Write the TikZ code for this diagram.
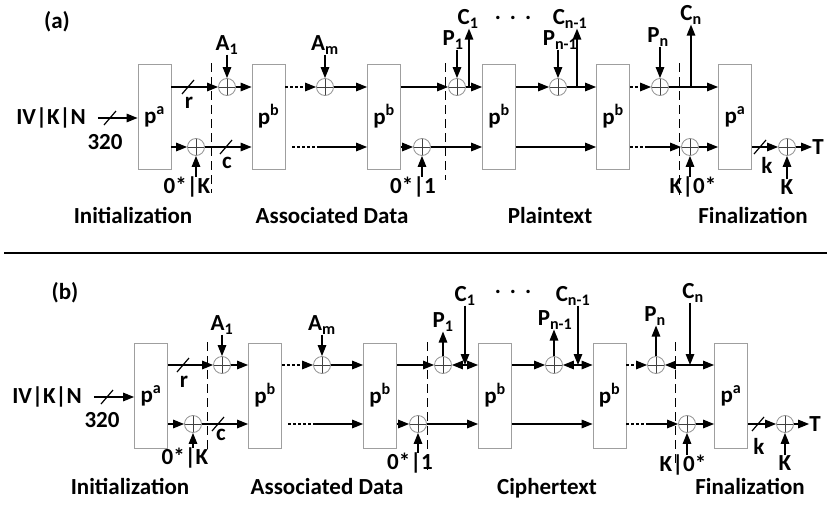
\documentclass[tikz,border=0pt]{standalone}
\usepackage{fontspec}
\setmainfont{Carlito}
\usetikzlibrary{arrows.meta}
\begin{document}
\begin{tikzpicture}[x=1pt,y=-1pt,
  every node/.style={font=\fontsize{23}{26}\selectfont\bfseries, inner sep=0pt},
  phaselbl/.style={anchor=base},
  perm/.style={draw=gray!75, line width=0.8pt, minimum width=33pt, minimum height=105pt},
  xo/.style={circle, draw=gray!85, line width=0.8pt, minimum size=17pt,
    path picture={\draw[black!75,line width=0.8pt] (path picture bounding box.north) -- (path picture bounding box.south) (path picture bounding box.west) -- (path picture bounding box.east);}},
  ln/.style={line width=1.4pt},
  arr/.style={ln, -{Triangle[length=11pt,width=8.5pt]}},
  dotl/.style={ln, dash pattern=on 3pt off 2pt},
  dotarr/.style={dotl, -{Triangle[length=11pt,width=8.5pt]}},
  sepl/.style={line width=1pt, dash pattern=on 9pt off 5pt},
  slash/.style={line width=1.2pt}
]
\useasboundingbox (0,0) rectangle (827,506);

% ================= panel (a) =================
\node (la) at (57,22) {(a)};
\node[perm] (a0) at (154.5,116.5) {p\textsuperscript{a}};
\node[perm] (a1) at (268.5,116.5) {p\textsuperscript{b}};
\node[perm] (a2) at (384,116.5) {p\textsuperscript{b}};
\node[perm] (a3) at (499,116.5) {p\textsuperscript{b}};
\node[perm] (a4) at (613,116.5) {p\textsuperscript{b}};
\node[perm] (a5) at (735,116.5) {p\textsuperscript{a}};

\node[xo] (xaA1) at (227,87) {};
\node[xo] (xaK1) at (196,147) {};
\node[xo] (xaAm) at (325,87) {};
\node[xo] (xa01) at (422,147) {};
\node[xo] (xaP1) at (457,87) {};
\node[xo] (xaPn1) at (558,87) {};
\node[xo] (xaPn) at (660,87) {};
\node[xo] (xaK2) at (690,147) {};
\node[xo] (xaT) at (787,147) {};

\node (aiv) at (51,118) {IV|K|N};
\node (a320) at (105,142) {320};
\node (ar) at (189,103) {r};
\node (ac) at (227,163) {c};
\node (a0K) at (187,187) {0*|K};
\node (aA1l) at (227,45) {A\textsubscript{1}};
\node (aAml) at (325,45) {A\textsubscript{m}};
\node (a01l) at (413,187) {0*|1};
\node (aP1l) at (453,40) {P\textsubscript{1}};
\node (aC1l) at (468,19) {C\textsubscript{1}};
\node (adots) at (513,18) {.\hspace{9pt}.\hspace{9pt}.};
\node (aPn1l) at (560,40) {P\textsubscript{n-1}};
\node (aCn1l) at (570,19) {C\textsubscript{n-1}};
\node (aPnl) at (658,37) {P\textsubscript{n}};
\node (aCnl) at (691,15) {C\textsubscript{n}};
\node (aK0) at (693,187) {K|0*};
\node (ak) at (767,165) {k};
\node (aKl) at (787,187) {K};
\node (aTl) at (818,147) {T};
\node[phaselbl] (aInit) at (133,223) {Initialization};
\node[phaselbl] (aAD) at (332,223) {Associated Data};
\node[phaselbl] (aPT) at (550,223) {Plaintext};
\node[phaselbl] (aFin) at (753,223) {Finalization};

\coordinate (aC1j) at (469,87);
\coordinate (aCn1j) at (577,87);
\coordinate (aCnj) at (691,87);
\coordinate (ad1) at (292,147);
\coordinate (ad2) at (317,147);
\coordinate (ad3) at (648,147);

% input
\draw[arr] ([xshift=12pt]aiv.east) -- (a0.west|-aiv);
\draw[slash] (104,125) -- (116,111);
% top row
\draw[arr] (a0.east|-xaA1) -- (xaA1.west);
\draw[slash] (182,94) -- (194,80);
\draw[arr] (xaA1.east) -- (a1.west|-xaA1);
\draw[dotarr] (a1.east|-xaAm) -- (xaAm.west);
\draw[arr] (xaAm.east) -- (a2.west|-xaAm);
\draw[arr] (a2.east|-xaP1) -- (xaP1.west);
\draw[arr] (xaP1.east) -- (a3.west|-xaP1);
\draw[arr] (a3.east|-xaPn1) -- (xaPn1.west);
\draw[arr] (xaPn1.east) -- (a4.west|-xaPn1);
\draw[dotarr] (a4.east|-xaPn) -- (xaPn.west);
\draw[arr] (xaPn.east) -- (a5.west|-xaPn);
% inputs / outputs top
\draw[arr] (xaA1|-aA1l.south) -- (xaA1.north);
\draw[arr] (xaAm|-aAml.south) -- (xaAm.north);
\draw[arr] (xaP1|-aP1l.south) -- (xaP1.north);
\draw[arr] (xaPn1|-aPn1l.south) -- (xaPn1.north);
\draw[arr] (xaPn|-aPnl.south) -- (xaPn.north);
\draw[arr] (aC1j) -- (aC1j|-aC1l.south);
\draw[arr] (aCn1j) -- (aCn1j|-aCn1l.south);
\draw[arr] (aCnj) -- (aCnj|-aCnl.south);
% bottom row
\draw[arr] (a0.east|-xaK1) -- (xaK1.west);
\draw[arr] (xaK1.east) -- (a1.west|-xaK1);
\draw[slash] (220,154) -- (232,140);
\draw[dotl] (ad1) -- (ad2);
\draw[arr] (ad2) -- (a2.west|-ad2);
\draw[arr] (a2.east|-xa01) -- (xa01.west);
\draw[arr] (xa01.east) -- (a3.west|-xa01);
\draw[arr] (a3.east|-xa01) -- (a4.west|-xa01);
\draw[dotl] (a4.east|-ad3) -- (ad3);
\draw[arr] (ad3) -- (xaK2.west);
\draw[arr] (xaK2.east) -- (a5.west|-xaK2);
\draw[arr] (a5.east|-xaT) -- (xaT.west);
\draw[slash] (754,154) -- (766,140);
\draw[arr] (xaT.east) -- (aTl.west);
\draw[arr] (xaK1|-a0K.north) -- (xaK1.south);
\draw[arr] (xa01|-a01l.north) -- (xa01.south);
\draw[arr] (xaK2|-aK0.north) -- (xaK2.south);
\draw[arr] (xaT|-aKl.north) -- (xaT.south);
% phase separators
\draw[sepl] (211,63) -- (211,193);
\draw[sepl] (445,63) -- (445,180);
\draw[sepl] (679,63) -- (679,195);

% separator line
\draw[line width=2pt] (4,252.5) -- (827,252.5);

% ================= panel (b) =================
\node (lb) at (65,293) {(b)};
\node[perm] (b0) at (151,395.5) {p\textsuperscript{a}};
\node[perm] (b1) at (265,395.5) {p\textsuperscript{b}};
\node[perm] (b2) at (380,395.5) {p\textsuperscript{b}};
\node[perm] (b3) at (495,395.5) {p\textsuperscript{b}};
\node[perm] (b4) at (609.5,395.5) {p\textsuperscript{b}};
\node[perm] (b5) at (731,395.5) {p\textsuperscript{a}};

\node[xo] (xbA1) at (222,365) {};
\node[xo] (xbK1) at (193,424) {};
\node[xo] (xbAm) at (322,365) {};
\node[xo] (xb01) at (418,424) {};
\node[xo] (xbP1) at (443,365) {};
\node[xo] (xbPn1) at (554,365) {};
\node[xo] (xbPn) at (656,365) {};
\node[xo] (xbK2) at (687,424) {};
\node[xo] (xbT) at (785,424) {};

\node (biv) at (47,397) {IV|K|N};
\node (b320) at (102,420) {320};
\node (br) at (184,382) {r};
\node (bc) at (221,435) {c};
\node (b0K) at (185,458) {0*|K};
\node (bA1l) at (222,325) {A\textsubscript{1}};
\node (bAml) at (322,325) {A\textsubscript{m}};
\node (b01l) at (410,463) {0*|1};
\node (bP1l) at (443,322) {P\textsubscript{1}};
\node (bC1l) at (465,296) {C\textsubscript{1}};
\node (bdots) at (513,292) {.\hspace{9pt}.\hspace{9pt}.};
\node (bPn1l) at (555,320) {P\textsubscript{n-1}};
\node (bCn1l) at (573,296) {C\textsubscript{n-1}};
\node (bPnl) at (655,316) {P\textsubscript{n}};
\node (bCnl) at (693,293) {C\textsubscript{n}};
\node (bK0) at (683,465) {K|0*};
\node (bk) at (759,446) {k};
\node (bKl) at (785,463) {K};
\node (bTl) at (815,424) {T};
\node[phaselbl] (bInit) at (130,494) {Initialization};
\node[phaselbl] (bAD) at (327,494) {Associated Data};
\node[phaselbl] (bCT) at (547,494) {Ciphertext};
\node[phaselbl] (bFin) at (750,494) {Finalization};

\coordinate (bC1j) at (465,365);
\coordinate (bCn1j) at (578,365);
\coordinate (bCnj) at (690,365);
\coordinate (bd1) at (288,424);
\coordinate (bd2) at (313,424);
\coordinate (bd3) at (647,424);

% input
\draw[arr] ([xshift=12pt]biv.east) -- (b0.west|-biv);
\draw[slash] (101,404) -- (113,390);
% top row
\draw[arr] (b0.east|-xbA1) -- (xbA1.west);
\draw[slash] (177,372) -- (189,358);
\draw[arr] (xbA1.east) -- (b1.west|-xbA1);
\draw[dotarr] (b1.east|-xbAm) -- (xbAm.west);
\draw[arr] (xbAm.east) -- (b2.west|-xbAm);
\draw[arr] (b2.east|-xbP1) -- (xbP1.west);
\draw[arr] (bC1j) -- (xbP1.east);
\draw[arr] (bC1j) -- (b3.west|-bC1j);
\draw[arr] (b3.east|-xbPn1) -- (xbPn1.west);
\draw[arr] (bCn1j) -- (xbPn1.east);
\draw[arr] (bCn1j) -- (b4.west|-bCn1j);
\draw[dotarr] (b4.east|-xbPn) -- (xbPn.west);
\draw[arr] (bCnj) -- (xbPn.east);
\draw[arr] (bCnj) -- (b5.west|-bCnj);
% inputs / outputs top
\draw[arr] (xbA1|-bA1l.south) -- (xbA1.north);
\draw[arr] (xbAm|-bAml.south) -- (xbAm.north);
\draw[arr] (xbP1.north) -- (xbP1|-bP1l.south);
\draw[arr] (xbPn1.north) -- (xbPn1|-bPn1l.south);
\draw[arr] (xbPn.north) -- (xbPn|-bPnl.south);
\draw[arr] (bC1j|-bC1l.south) -- (bC1j);
\draw[arr] (bCn1j|-bCn1l.south) -- (bCn1j);
\draw[arr] (bCnj|-bCnl.south) -- (bCnj);
% bottom row
\draw[arr] (b0.east|-xbK1) -- (xbK1.west);
\draw[arr] (xbK1.east) -- (b1.west|-xbK1);
\draw[slash] (212,431) -- (224,417);
\draw[dotl] (bd1) -- (bd2);
\draw[arr] (bd2) -- (b2.west|-bd2);
\draw[arr] (b2.east|-xb01) -- (xb01.west);
\draw[arr] (xb01.east) -- (b3.west|-xb01);
\draw[arr] (b3.east|-xb01) -- (b4.west|-xb01);
\draw[dotl] (b4.east|-bd3) -- (bd3);
\draw[arr] (bd3) -- (xbK2.west);
\draw[arr] (xbK2.east) -- (b5.west|-xbK2);
\draw[arr] (b5.east|-xbT) -- (xbT.west);
\draw[slash] (752,431) -- (764,417);
\draw[arr] (xbT.east) -- (bTl.west);
\draw[arr] (xbK1|-b0K.north) -- (xbK1.south);
\draw[arr] (xb01|-b01l.north) -- (xb01.south);
\draw[arr] (xbK2|-bK0.north) -- (xbK2.south);
\draw[arr] (xbT|-bKl.north) -- (xbT.south);
% phase separators
\draw[sepl] (207,342) -- (207,453);
\draw[sepl] (427,342) -- (427,470);
\draw[sepl] (675,342) -- (675,463);
\end{tikzpicture}
\end{document}
